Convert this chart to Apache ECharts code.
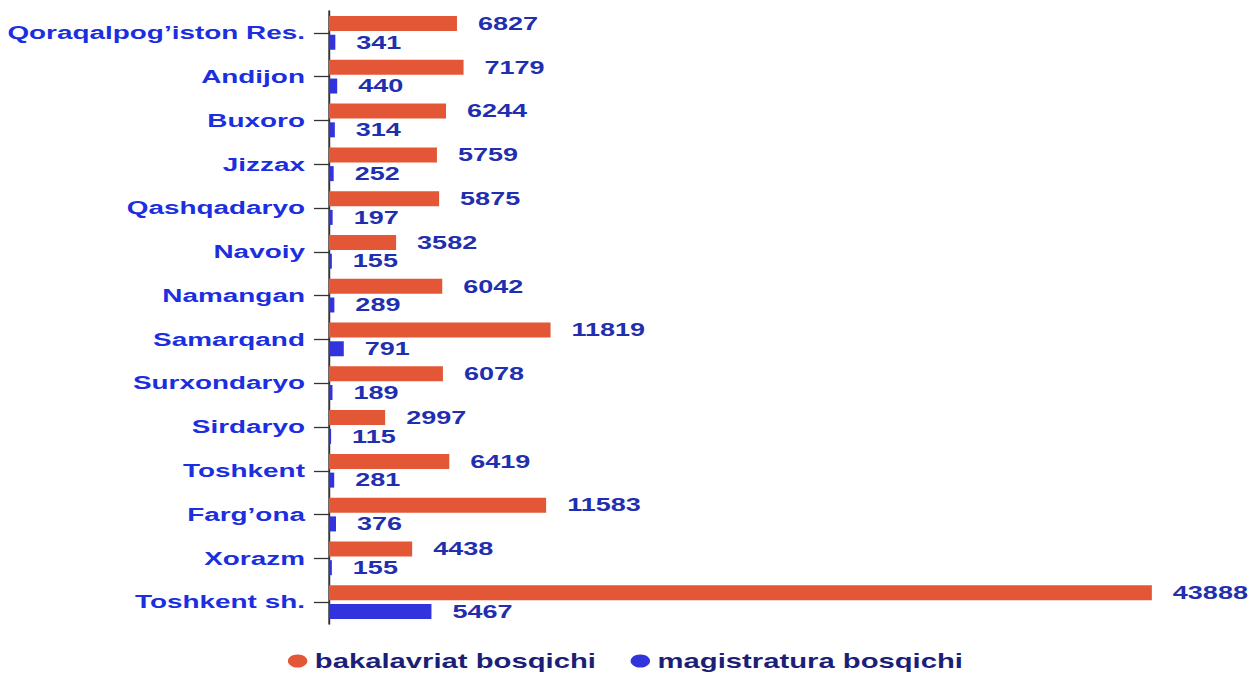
<!DOCTYPE html>
<html><head><meta charset="utf-8">
<script src="https://cdn.jsdelivr.net/npm/echarts@6/dist/echarts.min.js"></script>
<style>
html,body{margin:0;padding:0;background:#fff;overflow:hidden;width:1251px;height:675px}
/* the reference is horizontally stretched by ~1.5 */
#c{width:834px;height:675px;transform:scaleX(1.5);transform-origin:0 0}
</style>
</head><body><div id="c"></div>
<script>
var categories = ["Qoraqalpog’iston Res.","Andijon","Buxoro","Jizzax","Qashqadaryo","Navoiy","Namangan","Samarqand","Surxondaryo","Sirdaryo","Toshkent","Farg’ona","Xorazm","Toshkent sh."];
var bakalavriat = [6827,7179,6244,5759,5875,3582,6042,11819,6078,2997,6419,11583,4438,43888];
var magistratura = [341,440,314,252,197,155,289,791,189,115,281,376,155,5467];
var seriesNames = ["bakalavriat bosqichi","magistratura bosqichi"];

var chart = echarts.init(document.getElementById('c'), null, {renderer:'svg'});
var FONT = 'Liberation Sans, Arial, sans-serif';
var labelStyle = {show:true,position:'right',distance:14,color:'#1f2fb0',fontFamily:FONT,fontWeight:'bold',fontSize:18};
chart.setOption({
  animation:false,
  grid:{left:219.3,right:64.7,top:11,bottom:51},
  legend:{bottom:-1,left:'center',icon:'circle',itemWidth:13,itemHeight:13,itemGap:23,
    textStyle:{color:'#1c1f78',fontFamily:FONT,fontWeight:'bold',fontSize:19.5},
    data:seriesNames},
  xAxis:{type:'value',min:0,max:44000,show:false},
  yAxis:{type:'category',inverse:true,data:categories,
    axisLine:{show:true,lineStyle:{color:'#333',width:1.3}},
    axisTick:{show:true,alignWithLabel:true,length:10,lineStyle:{color:'#333',width:1.3}},
    axisLabel:{color:'#1b2fe0',fontFamily:FONT,fontWeight:'bold',fontSize:18.6,margin:16}},
  series:[
    {name:seriesNames[0],type:'bar',data:bakalavriat,barWidth:15,barGap:'25%',itemStyle:{color:'#e35636'},label:labelStyle},
    {name:seriesNames[1],type:'bar',data:magistratura,barWidth:15,itemStyle:{color:'#3333dd'},label:labelStyle}
  ]
});
</script></body></html>
